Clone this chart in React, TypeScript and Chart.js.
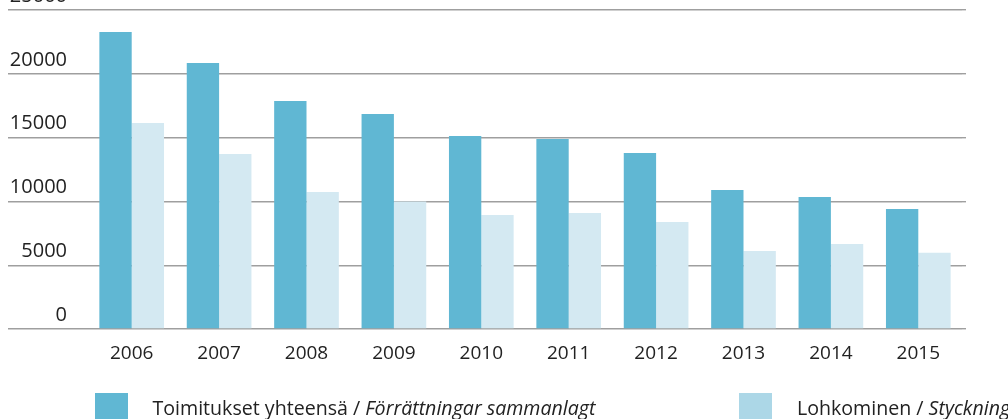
import React, { useEffect, useRef } from "react";
import { Chart, registerables } from "chart.js";

Chart.register(...registerables);

const years = ["2006", "2007", "2008", "2009", "2010", "2011", "2012", "2013", "2014", "2015"];
const toimitukset = [23280, 20850, 17870, 16850, 15120, 14890, 13790, 10890, 10340, 9400];
const lohkominen = [16140, 13720, 10740, 10000, 8930, 9090, 8390, 6110, 6660, 5980];
const yTicks = [0, 5000, 10000, 15000, 20000, 25000];

const DARK = "#60b7d3";
const LIGHT = "#d4e9f2";
const LEGEND_LIGHT = "#acd7e7";
const GRID = "rgba(80,80,80,0.55)";
const FONT = "'Open Sans', 'Noto Sans', sans-serif";

export default function App() {
  const ref = useRef<HTMLCanvasElement | null>(null);

  useEffect(() => {
    document.body.style.margin = "0";
    const canvas = ref.current;
    if (!canvas) return;
    const zeroPad = (s: any) => {
      s.paddingTop = 0;
      s.paddingBottom = 0;
      s.paddingLeft = 0;
      s.paddingRight = 0;
    };
    const chart = new Chart(canvas, {
      type: "bar",
      data: {
        labels: years,
        datasets: [
          { label: "Toimitukset yhteensä / Förrättningar sammanlagt", data: toimitukset, backgroundColor: DARK, yAxisID: "y" },
          { label: "Lohkominen / Styckning", data: lohkominen, backgroundColor: LIGHT, yAxisID: "y" },
        ],
      },
      options: {
        animation: false,
        responsive: false,
        maintainAspectRatio: false,
        layout: { padding: { top: 10, left: 8, right: 42, bottom: 40 } },
        datasets: { bar: { barPercentage: 1, categoryPercentage: 0.74 } } as any,
        plugins: { legend: { display: false }, tooltip: { enabled: false } },
        scales: {
          x: {
            grid: { display: false, drawTicks: false },
            border: { display: false },
            ticks: { color: "#222", font: { family: FONT, size: 19 }, padding: 13, maxRotation: 0 },
            afterFit: (s: any) => { s.height = 50; zeroPad(s); },
          },
          y: {
            position: "left",
            min: yTicks[0],
            max: yTicks[yTicks.length - 1],
            z: 1,
            border: { display: false },
            grid: { color: GRID, lineWidth: 1.4, drawTicks: true, tickLength: 80 },
            afterBuildTicks: (s: any) => { s.ticks = yTicks.map((v) => ({ value: v })); },
            ticks: {
              color: "#222",
              font: { family: FONT, size: 20 },
              padding: -59,
              labelOffset: -14,
              callback: (v: any) => String(v),
            },
            afterFit: (s: any) => { s.width = 80; zeroPad(s); },
          },
          y2: {
            position: "right",
            min: yTicks[0],
            max: yTicks[yTicks.length - 1],
            z: 1,
            border: { display: false },
            grid: { color: GRID, lineWidth: 1.4, drawOnChartArea: false, drawTicks: true, tickLength: 4 },
            afterBuildTicks: (s: any) => { s.ticks = yTicks.map((v) => ({ value: v })); },
            ticks: { display: false },
            afterFit: (s: any) => { s.width = 4; zeroPad(s); },
          },
        },
      } as any,
    });
    return () => chart.destroy();
  }, []);

  const textStyle: React.CSSProperties = {
    position: "absolute",
    top: 394,
    fontFamily: FONT,
    fontSize: 19.6,
    color: "#222",
    whiteSpace: "nowrap",
    lineHeight: "normal",
  };

  return (
    <div style={{ position: "relative", width: 1008, height: 419, overflow: "hidden", background: "#fff" }}>
      <canvas ref={ref} width={1008} height={419} style={{ position: "absolute", left: 0, top: 0, width: 1008, height: 419 }} />
      <div style={{ position: "absolute", left: 95, top: 393, width: 33, height: 30, background: DARK }} />
      <div style={{ ...textStyle, left: 152.5 }}>
        Toimitukset yhteensä / <i>Förrättningar sammanlagt</i>
      </div>
      <div style={{ position: "absolute", left: 739, top: 393, width: 33, height: 30, background: LEGEND_LIGHT }} />
      <div style={{ ...textStyle, left: 797 }}>
        Lohkominen / <i>Styckning</i>
      </div>
    </div>
  );
}
